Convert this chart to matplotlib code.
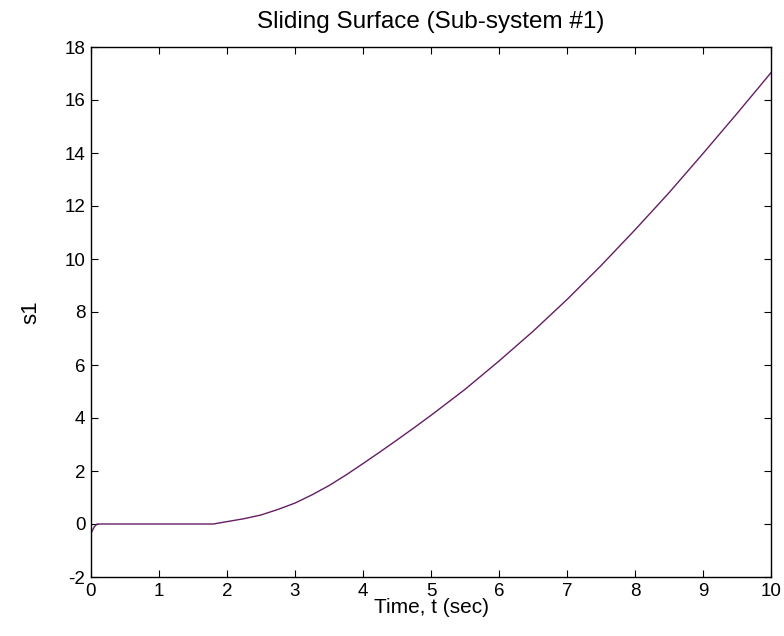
import matplotlib
matplotlib.use("Agg")
import matplotlib.pyplot as plt

# Data
t = [0.0, 0.02, 0.05, 0.09, 0.5, 1.0, 1.5, 1.8, 2.0, 2.25, 2.5, 2.75, 3.0, 3.25, 3.5,
     3.75, 4.0, 4.25, 4.5, 4.75, 5.0, 5.5, 6.0, 6.5, 7.0, 7.5, 8.0, 8.5, 9.0, 9.5, 10.0]
s1 = [-0.35, -0.25, -0.1, 0.0, 0.0, 0.0, 0.0, 0.0, 0.09, 0.2, 0.34, 0.55, 0.79, 1.1, 1.45,
      1.85, 2.28, 2.72, 3.17, 3.63, 4.1, 5.08, 6.15, 7.27, 8.47, 9.75, 11.1, 12.5, 13.98, 15.49, 17.03]
xticks = list(range(0, 11))
yticks = list(range(-2, 19, 2))

plt.rcParams['font.family'] = ['Liberation Sans', 'DejaVu Sans']
plt.rcParams['axes.unicode_minus'] = False

fig = plt.figure(figsize=(7.84, 6.36), dpi=100)
ax = fig.add_axes([91/784, 1 - 577/636, (771-91)/784, (577-47)/636])
ax.plot(t, s1, color='#641e64', linewidth=1.0)
ax.set_xlim(0, 10)
ax.set_ylim(-2, 18)
ax.set_xticks(xticks)
ax.set_yticks(yticks)
ax.tick_params(direction='in', length=5, top=True, right=True, labelsize=13.5, pad=4)
for sp in ax.spines.values():
    sp.set_linewidth(1.0)
ax.set_title('Sliding Surface (Sub-system #1)', fontsize=17.5, pad=14)
ax.set_xlabel('Time, t (sec)', fontsize=15, labelpad=-1)
ax.set_ylabel('s1', fontsize=16, labelpad=17)
fig.savefig('out.png', dpi=100)
